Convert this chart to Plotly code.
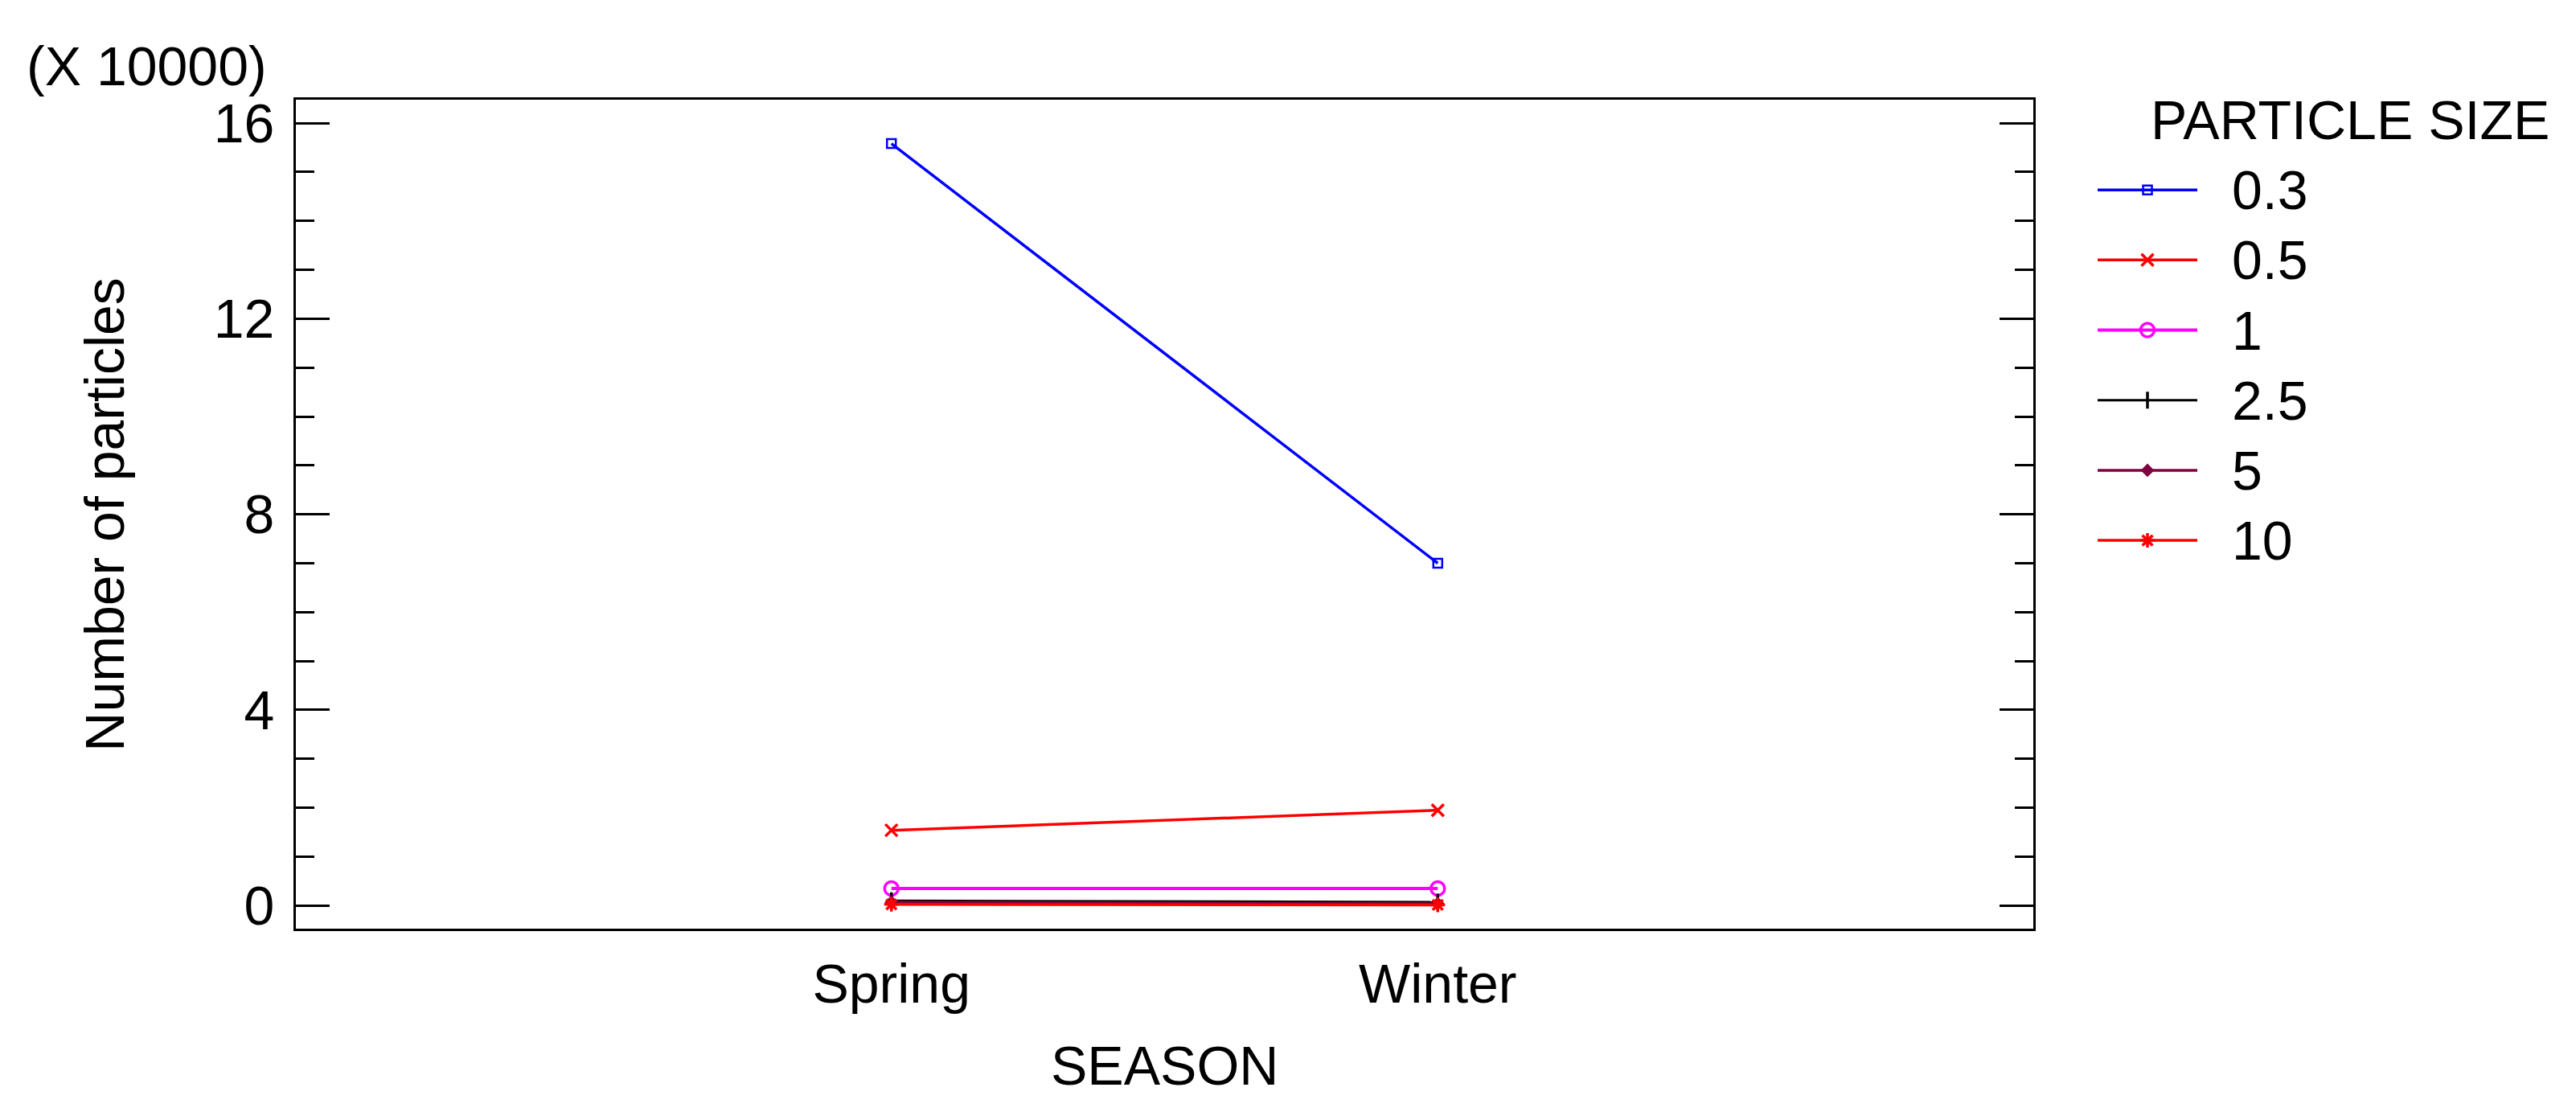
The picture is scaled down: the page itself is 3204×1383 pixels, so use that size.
import plotly.graph_objects as go

# ---------------- data ----------------
seasons = ["Spring", "Winter"]
particle_sizes = ["0.3", "0.5", "1", "2.5", "5", "10"]
counts_03 = [155800, 70000]
counts_05 = [15400, 19500]
counts_1 = [3500, 3500]
counts_25 = [1000, 700]
counts_5 = [700, 400]
counts_10 = [250, 150]
y_scale = 10000
y_tick_values = [0, 4, 8, 12, 16]

series_values = [counts_03, counts_05, counts_1, counts_25, counts_5, counts_10]

# ---------------- styles ----------------
W, H = 3204, 1383
FONT = "Liberation Sans, Arial, Helvetica, sans-serif"
FS = 68

styles = [
    dict(color="#0000FF", width=3.5, symbol="square-open", size=11, lw=2.5),
    dict(color="#FF0000", width=3.5, symbol="x-thin", size=15, lw=3.5),
    dict(color="#FF00FF", width=4, symbol="circle-open", size=17, lw=3.5),
    dict(color="#000000", width=3, symbol="line-ns", size=15, lw=3.5),
    dict(color="#800040", width=3.5, symbol="diamond", size=13, lw=0),
    dict(color="#FF0000", width=3.5, symbol="asterisk", size=15, lw=3.5),
]

# plot area in pixels
PL, PR, PT, PB = 368, 2529, 117, 1161

fig = go.Figure()

for name, vals, st in zip(particle_sizes, series_values, styles):
    fig.add_trace(go.Scatter(
        x=seasons, y=[v / y_scale for v in vals], name=name,
        mode="lines+markers",
        line=dict(color=st["color"], width=st["width"]),
        marker=dict(symbol=st["symbol"], size=st["size"], color=st["color"],
                    line=dict(color=st["color"], width=st["lw"])),
        showlegend=False, cliponaxis=False,
        xaxis="x", yaxis="y",
    ))

# custom legend drawn on its own small axis pair
n = len(particle_sizes)
for i, (name, st) in enumerate(zip(particle_sizes, styles)):
    fig.add_trace(go.Scatter(
        x=[0, 1], y=[i, i], mode="lines",
        line=dict(color=st["color"], width=st["width"]),
        showlegend=False, hoverinfo="skip", xaxis="x2", yaxis="y2",
    ))
    fig.add_trace(go.Scatter(
        x=[0.5], y=[i], mode="markers",
        marker=dict(symbol=st["symbol"], size=st["size"], color=st["color"],
                    line=dict(color=st["color"], width=st["lw"])),
        showlegend=False, hoverinfo="skip", xaxis="x2", yaxis="y2", cliponaxis=False,
    ))

annotations = []
for i, name in enumerate(particle_sizes):
    annotations.append(dict(
        text=name, xref="paper", yref="y2", x=2774 / W, y=i,
        xanchor="left", yanchor="middle", showarrow=False,
        font=dict(family=FONT, size=FS, color="black"),
    ))

annotations += [
    dict(text="PARTICLE SIZE", xref="paper", yref="paper", x=2673 / W, y=1 - 142 / H,
         xanchor="left", yanchor="middle", showarrow=False,
         font=dict(family=FONT, size=FS, color="black")),
    dict(text="(X 10000)", xref="paper", yref="paper", x=32 / W, y=1 - 74 / H,
         xanchor="left", yanchor="middle", showarrow=False, borderpad=0,
         font=dict(family=FONT, size=FS, color="black")),
    dict(text="SEASON", xref="paper", yref="paper", x=((PL + PR) / 2) / W, y=1 - 1333 / H,
         xanchor="center", yanchor="middle", showarrow=False,
         font=dict(family=FONT, size=FS, color="black")),
    dict(text="Number of particles", xref="paper", yref="paper", x=130 / W,
         y=1 - ((PT + PB) / 2) / H, textangle=-90,
         xanchor="center", yanchor="middle", showarrow=False,
         font=dict(family=FONT, size=FS, color="black")),
]

leg_top = 230 - 44
leg_bot = 672 + 44

fig.update_layout(
    width=W, height=H,
    margin=dict(l=0, r=0, t=0, b=0),
    paper_bgcolor="white", plot_bgcolor="white",
    font=dict(family=FONT, size=FS, color="black"),
    showlegend=False,
    xaxis=dict(
        domain=[PL / W, PR / W], type="category", range=[-1.09, 2.09],
        showline=True, linecolor="black", linewidth=3, mirror=True,
        ticks="", showgrid=False, zeroline=False, ticklabelstandoff=8,
        tickfont=dict(family=FONT, size=FS, color="black"),
        anchor="y",
    ),
    yaxis=dict(
        domain=[1 - PB / H, 1 - PT / H], range=[-0.47, 16.47],
        tickmode="array", tickvals=y_tick_values,
        ticktext=[str(v) for v in y_tick_values],
        showline=True, linecolor="black", linewidth=3, mirror="ticks",
        ticks="inside", ticklen=42, tickwidth=3, tickcolor="black",
        minor=dict(dtick=1, tick0=0, ticks="inside", ticklen=23, tickwidth=3,
                   tickcolor="black", showgrid=False),
        showgrid=False, zeroline=False, ticklabelstandoff=10,
        tickfont=dict(family=FONT, size=FS, color="black"),
        anchor="x",
    ),
    xaxis2=dict(domain=[2609 / W, 2733 / W], range=[0, 1], visible=False,
                anchor="y2", fixedrange=True),
    yaxis2=dict(domain=[1 - leg_bot / H, 1 - leg_top / H], range=[n - 0.5, -0.5],
                visible=False, anchor="x2", fixedrange=True),
    annotations=annotations,
)

fig.write_html(
    "out.html",
    config={"displayModeBar": False},
    post_script="document.documentElement.style.margin='0';"
                "document.body.style.margin='0';document.body.style.padding='0';"
                "document.body.style.overflow='hidden';",
)
